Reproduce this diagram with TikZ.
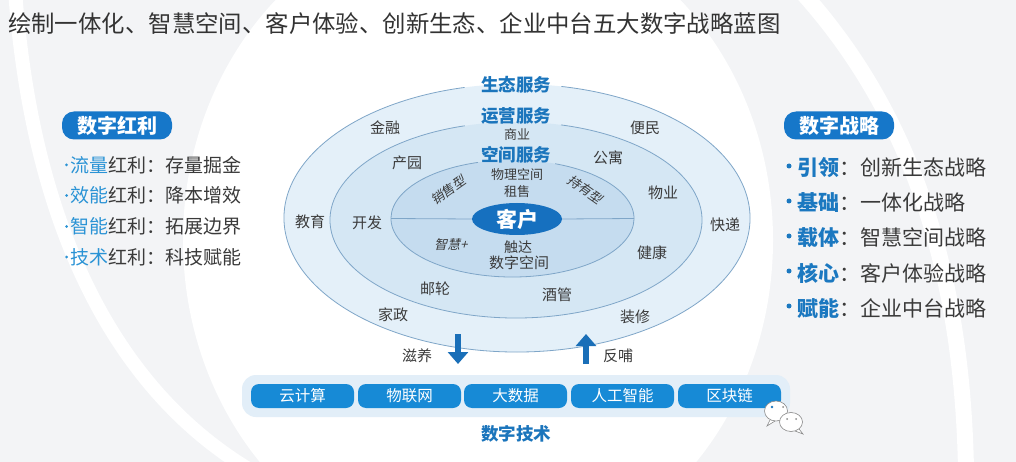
\documentclass[tikz,border=0pt]{standalone}
\usepackage{fontspec}
\setmainfont{Noto Sans CJK SC}
\usetikzlibrary{arrows.meta,shapes.geometric}
\definecolor{bggray}{HTML}{F3F4F6}
\definecolor{titlegray}{HTML}{333333}
\definecolor{dgray}{HTML}{3A3A3A}
\definecolor{svcblue}{HTML}{1B75BC}
\definecolor{pillblue}{HTML}{1677C9}
\definecolor{lblue}{HTML}{2A93D5}
\definecolor{rblue}{HTML}{1B78C0}
\definecolor{ringline}{HTML}{7FA6C8}
\definecolor{ringA}{HTML}{E4F0F9}
\definecolor{ringB}{HTML}{D5E7F4}
\definecolor{ringC}{HTML}{C5DCEF}
\definecolor{kehublue}{HTML}{1670BF}
\definecolor{boxblue}{HTML}{178AD6}
\definecolor{barfill}{HTML}{E2EEF8}
\definecolor{arrowblue}{HTML}{1A6FB8}
\definecolor{icongray}{HTML}{8A8A8A}
\begin{document}
\begin{tikzpicture}[x=1pt,y=1pt,
  rline/.style={draw=ringline, line width=0.8pt},
  lbl/.style={font=\fontsize{15}{18}\selectfont, text=dgray, inner sep=0pt},
  sml/.style={font=\fontsize{13}{15}\selectfont, text=dgray, inner sep=0pt},
  svc/.style={font=\bfseries\fontsize{17.5}{20}\selectfont, text=svcblue, inner sep=0pt},
  pill/.style={fill=pillblue, rounded corners=12pt, minimum width=110pt, minimum height=28pt,
    inner sep=0pt, text=white, font=\bfseries\fontsize{20}{22}\selectfont},
  litem/.style={anchor=west, inner sep=0pt, text=dgray, font=\fontsize{19}{22}\selectfont},
  ritem/.style={anchor=west, inner sep=0pt, text=dgray, font=\fontsize{21}{24}\selectfont},
  ldot/.style={circle, fill=lblue, inner sep=0pt, minimum size=3pt},
  rdot/.style={circle, fill=rblue, inner sep=0pt, minimum size=5pt},
  techbox/.style={fill=boxblue, rounded corners=8pt, minimum width=103pt, minimum height=24pt,
    inner sep=0pt, text=white, font=\fontsize{15.5}{18}\selectfont},
  bigarrow/.style={draw=arrowblue, line width=6pt, -{Triangle[width=20pt,length=12pt]}},
  iconline/.style={draw=icongray, line width=0.6pt, fill=white}
]
\useasboundingbox (0,0) rectangle (1016,-462);
% background
\fill[bggray] (0,0) rectangle (1016,-462);
\fill[white] (478,-240) ellipse [x radius=295, y radius=330];
\draw[white, line width=14pt] (15,10) .. controls (30,-200) and (100,-380) .. (250,-470);
\draw[white, line width=16pt] (800,10) .. controls (900,-100) and (962,-250) .. (966,-470);

% title
\node[anchor=west, inner sep=0pt, text=titlegray, font=\fontsize{23.4}{28}\selectfont] (title) at (8,-24)
  {绘制一体化、智慧空间、客户体验、创新生态、企业中台五大数字战略蓝图};

% ellipses
\fill[ringA] (517,-218) ellipse [x radius=233, y radius=134];
\fill[ringB] (516,-220) ellipse [x radius=186, y radius=98];
\fill[ringC] (512.5,-218.5) ellipse [x radius=121.5, y radius=58.5];
\draw[rline] ([shift={(517,-218)}]103:233 and 134) arc[start angle=103, end angle=439, x radius=233, y radius=134];
\draw[rline] ([shift={(516,-220)}]106:186 and 98) arc[start angle=106, end angle=436, x radius=186, y radius=98];
\draw[rline] ([shift={(512.5,-218.5)}]106.5:121.5 and 58.5) arc[start angle=106.5, end angle=429.5, x radius=121.5, y radius=58.5];

\node[ellipse, fill=kehublue, minimum width=90pt, minimum height=32pt, inner sep=0pt, text=white,
  font=\bfseries\fontsize{21}{23}\selectfont] (kehu) at (517,-219) {客户};
\coordinate (il) at (391,-218.5);
\coordinate (ir) at (634,-218.5);
\draw[rline] (il) -- (kehu.west);
\draw[rline] (kehu.east) -- (ir);

% service labels
\node[svc] (s1) at (516,-85) {生态服务};
\node[svc] (s2) at (516,-116) {运营服务};
\node[sml] (sy) at (517,-135) {商业};
\node[svc] (s3) at (516,-155) {空间服务};
\node[sml] (wl) at (517,-175) {物理空间};
\node[sml] (zs) at (517,-192) {租售};
\node[sml, rotate=35, xslant=0.2] (xs) at (449,-190) {销售型};
\node[sml, rotate=-35, xslant=0.2] (cy) at (586,-190) {持有型};
\node[sml, xslant=0.25] (zh) at (452,-245) {智慧+};
\node[lbl, font=\fontsize{14}{16}\selectfont] (cd) at (518,-247) {触达};
\node[lbl] (sz) at (519,-263) {数字空间};

% ring labels
\node[lbl] (jr) at (385,-128) {金融};
\node[lbl] (bm) at (645,-128) {便民};
\node[lbl] (cyu) at (407,-163) {产园};
\node[lbl] (gy) at (608,-158) {公寓};
\node[lbl] (wy) at (663,-193) {物业};
\node[lbl] (jy) at (310,-222) {教育};
\node[lbl] (kf) at (367,-223) {开发};
\node[lbl] (kd) at (725,-225) {快递};
\node[lbl] (jk) at (652,-253) {健康};
\node[lbl] (yl) at (435,-289) {邮轮};
\node[lbl] (jg) at (557,-295) {酒管};
\node[lbl] (jz) at (393,-315) {家政};
\node[lbl] (zx) at (635,-317) {装修};

% arrows
\coordinate (d1) at (458,-334);
\coordinate (d2) at (458,-364);
\coordinate (u1) at (586,-364);
\coordinate (u2) at (586,-334);
\draw[bigarrow] (d1) -- (d2);
\draw[bigarrow] (u1) -- (u2);
\node[lbl] (zy) at (417,-356) {滋养};
\node[lbl] (fb) at (618,-356) {反哺};

% tech bar
\fill[barfill, rounded corners=14pt] (242,-375) rectangle (790,-417);
\node[techbox] (t1) at (302.5,-396) {云计算};
\node[techbox] (t2) at (409.5,-396) {物联网};
\node[techbox] (t3) at (515.5,-396) {大数据};
\node[techbox] (t4) at (622.5,-396) {人工智能};
\node[techbox] (t5) at (729.5,-396) {区块链};
\node[svc] (szjs) at (516,-434) {数字技术};

% wechat icon
\draw[iconline] (770,-420) -- (767,-426) -- (775,-421);
\draw[iconline] (776,-411) ellipse [x radius=11.5, y radius=10];
\draw[iconline] (799,-429) -- (803,-434) -- (795,-431);
\draw[iconline] (791,-422) ellipse [x radius=11.5, y radius=9.5];
\fill[rblue] (772,-407) circle (1.3);
\fill[icongray] (783,-407) circle (1);
\fill[icongray] (787,-419) circle (1);
\fill[icongray] (796,-419) circle (1);

% left panel
\node[pill] (lp) at (117,-125.5) {数字红利};
\node[ldot] (lb1) at (66.5,-165) {};
\node[litem] (l1) at (70.5,-165) {\textcolor{lblue}{流量}红利：存量掘金};
\node[ldot] (lb2) at (66.5,-195.5) {};
\node[litem] (l2) at (70.5,-195.5) {\textcolor{lblue}{效能}红利：降本增效};
\node[ldot] (lb3) at (66.5,-226.5) {};
\node[litem] (l3) at (70.5,-226.5) {\textcolor{lblue}{智能}红利：拓展边界};
\node[ldot] (lb4) at (66.5,-257) {};
\node[litem] (l4) at (70.5,-257) {\textcolor{lblue}{技术}红利：科技赋能};

% right panel
\node[pill] (rp) at (839,-125.5) {数字战略};
\node[rdot] (rb1) at (789,-166) {};
\node[ritem] (r1) at (797.5,-168) {\textcolor{rblue}{\bfseries 引领}：创新生态战略};
\node[rdot] (rb2) at (789,-201) {};
\node[ritem] (r2) at (797.5,-203) {\textcolor{rblue}{\bfseries 基础}：一体化战略};
\node[rdot] (rb3) at (789,-236) {};
\node[ritem] (r3) at (797.5,-238) {\textcolor{rblue}{\bfseries 载体}：智慧空间战略};
\node[rdot] (rb4) at (789,-271) {};
\node[ritem] (r4) at (797.5,-273) {\textcolor{rblue}{\bfseries 核心}：客户体验战略};
\node[rdot] (rb5) at (789,-306) {};
\node[ritem] (r5) at (797.5,-308) {\textcolor{rblue}{\bfseries 赋能}：企业中台战略};
\end{tikzpicture}
\end{document}
